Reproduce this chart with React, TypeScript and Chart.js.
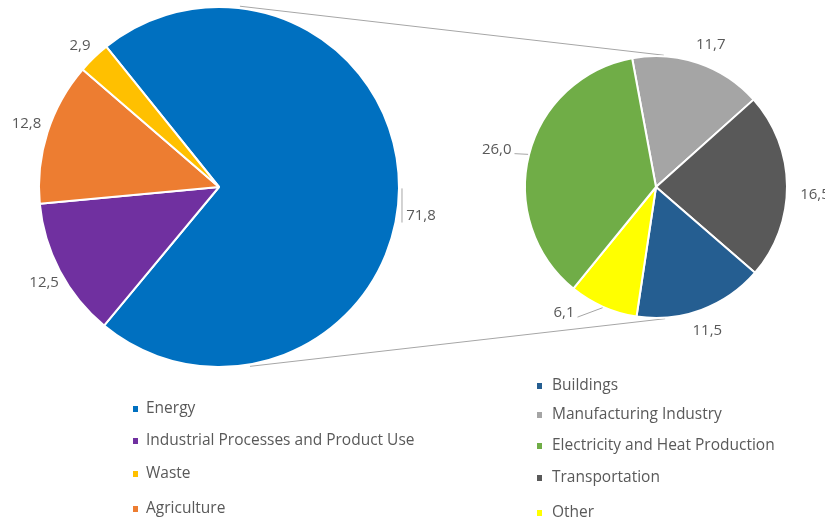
import React, { useEffect, useRef } from "react";
import { Chart, registerables } from "chart.js";

Chart.register(...registerables);

// ---- data (drawing order, clockwise) ----
const mainLabels = ["Energy", "Industrial Processes and Product Use", "Agriculture", "Waste"];
const mainValues = [71.8, 12.5, 12.8, 2.9];
const mainColors = ["#0070C0", "#7030A0", "#ED7D31", "#FFC000"];
const mainLegendOrder = ["Energy", "Industrial Processes and Product Use", "Waste", "Agriculture"];

const energyLabels = ["Manufacturing Industry", "Transportation", "Buildings", "Other", "Electricity and Heat Production"];
const energyValues = [11.7, 16.5, 11.5, 6.1, 26.0];
const energyColors = ["#A5A5A5", "#595959", "#255E91", "#FFFF00", "#70AD47"];
const energyLegendOrder = ["Buildings", "Manufacturing Industry", "Electricity and Heat Production", "Transportation", "Other"];

// ---- layout / style ----
const W = 825;
const H = 524;
const LABEL_FONT = "15px 'Open Sans', 'Noto Sans', sans-serif";
const LEGEND_FONT = "15.5px 'Open Sans', 'Noto Sans', sans-serif";
const TEXT = "#595959";

const mainLabelNudge = [[2, 27], [2, 2], [-2, -2], [0, 3]];
const mainLeader = ["down", "none", "none", "none"];
const energyLabelNudge = [[6, 1], [8, 9], [-1, 2], [-31, -12], [-13, 0]];
const energyLeader = ["none", "none", "none", "side", "side"];

const mainLegendPos = { markX: 133, textX: 146, rows: [409, 441, 474, 509] };
const energyLegendPos = { markX: 537, textX: 552, rows: [386, 415, 446, 478, 513] };

const fmt = (v: number) => v.toFixed(1).replace(".", ",");

function labelPlugin(id: string, nudges: number[][], leaders: string[]) {
  return {
    id,
    afterDatasetsDraw(chart: any) {
      const ctx = chart.ctx;
      const meta = chart.getDatasetMeta(0);
      const values = chart.data.datasets[0].data as number[];
      ctx.save();
      ctx.font = LABEL_FONT;
      ctx.fillStyle = TEXT;
      ctx.textBaseline = "middle";
      ctx.textAlign = "center";
      meta.data.forEach((arc: any, i: number) => {
        const p = arc.getProps(["x", "y", "startAngle", "endAngle", "outerRadius"], true);
        const mid = (p.startAngle + p.endAngle) / 2;
        const cos = Math.cos(mid);
        const sin = Math.sin(mid);
        const lx = p.x + (p.outerRadius + 20) * cos + nudges[i][0];
        const ly = p.y + (p.outerRadius + 20) * sin + nudges[i][1];
        const text = fmt(values[i]);
        const tw = ctx.measureText(text).width;
        ctx.fillText(text, lx, ly);
        if (leaders[i] !== "none") {
          ctx.strokeStyle = "#A6A6A6";
          ctx.lineWidth = 1;
          ctx.beginPath();
          if (leaders[i] === "down") {
            const ex = p.x + (p.outerRadius + 3) * cos;
            const ey = p.y + (p.outerRadius + 3) * sin;
            ctx.moveTo(ex, ey);
            ctx.lineTo(ex, ly + 7);
          } else {
            const ex = p.x + (p.outerRadius + 1) * cos;
            const ey = p.y + (p.outerRadius + 1) * sin;
            ctx.moveTo(ex, ey);
            ctx.lineTo(lx + tw / 2 + 3, ly + 4);
          }
          ctx.stroke();
        }
      });
      ctx.restore();
    },
  };
}

function legendPlugin(id: string, order: string[], labels: string[], colors: string[], pos: any) {
  return {
    id,
    afterDraw(chart: any) {
      const ctx = chart.ctx;
      ctx.save();
      ctx.font = LEGEND_FONT;
      ctx.textBaseline = "middle";
      ctx.textAlign = "left";
      order.forEach((name, k) => {
        const idx = labels.indexOf(name);
        const y = pos.rows[k];
        ctx.fillStyle = colors[idx];
        ctx.fillRect(pos.markX, y - 3, 5, 6);
        ctx.fillStyle = TEXT;
        ctx.fillText(name, pos.textX, y);
      });
      ctx.restore();
    },
  };
}

export default function App() {
  const leftRef = useRef<HTMLCanvasElement>(null);
  const rightRef = useRef<HTMLCanvasElement>(null);

  useEffect(() => {
    if (!leftRef.current || !rightRef.current) return;

    const left = new Chart(leftRef.current, {
      type: "pie",
      data: {
        labels: mainLabels,
        datasets: [
          {
            data: mainValues,
            backgroundColor: mainColors,
            borderColor: "#FFFFFF",
            borderWidth: 2,
          },
        ],
      },
      options: {
        responsive: false,
        animation: false,
        rotation: -38.8,
        layout: { padding: { left: 38, top: 6, right: 425, bottom: 156 } },
        plugins: { legend: { display: false }, tooltip: { enabled: false } },
      },
      plugins: [
        labelPlugin("mainLabels", mainLabelNudge, mainLeader),
        legendPlugin("mainLegend", mainLegendOrder, mainLabels, mainColors, mainLegendPos),
      ],
    });

    const connectorPlugin = {
      id: "connectors",
      beforeDatasetsDraw(chart: any) {
        const a = left.getDatasetMeta(0).data[0] as any;
        const b = chart.getDatasetMeta(0).data[0] as any;
        if (!a || !b) return;
        const ap = a.getProps(["x", "y", "outerRadius"], true);
        const bp = b.getProps(["x", "y", "outerRadius"], true);
        const deg = Math.PI / 180;
        const pt = (c: any, r: number, ang: number) => [c.x + r * Math.cos(ang * deg), c.y + r * Math.sin(ang * deg)];
        const ctx = chart.ctx;
        ctx.save();
        ctx.strokeStyle = "#A6A6A6";
        ctx.lineWidth = 1;
        const t1 = pt(ap, ap.outerRadius + 2, -83.4);
        const t2 = pt(bp, bp.outerRadius + 1, -86.6);
        const b1 = pt(ap, ap.outerRadius + 2, 80.2);
        const b2 = pt(bp, bp.outerRadius + 1, 86.0);
        ctx.beginPath();
        ctx.moveTo(t1[0], t1[1]);
        ctx.lineTo(t2[0], t2[1]);
        ctx.moveTo(b1[0], b1[1]);
        ctx.lineTo(b2[0], b2[1]);
        ctx.stroke();
        ctx.restore();
      },
    };

    const right = new Chart(rightRef.current, {
      type: "pie",
      data: {
        labels: energyLabels,
        datasets: [
          {
            data: energyValues,
            backgroundColor: energyColors,
            borderColor: "#FFFFFF",
            borderWidth: 2,
          },
        ],
      },
      options: {
        responsive: false,
        animation: false,
        rotation: -10.5,
        layout: { padding: { left: 524, top: 55, right: 37, bottom: 205 } },
        plugins: { legend: { display: false }, tooltip: { enabled: false } },
      },
      plugins: [
        connectorPlugin,
        labelPlugin("energyLabels", energyLabelNudge, energyLeader),
        legendPlugin("energyLegend", energyLegendOrder, energyLabels, energyColors, energyLegendPos),
      ],
    });

    return () => {
      right.destroy();
      left.destroy();
    };
  }, []);

  return (
    <div style={{ position: "absolute", left: 0, top: 0, width: W, height: H, background: "#FFFFFF", overflow: "hidden" }}>
      <canvas ref={leftRef} width={W} height={H} style={{ position: "absolute", left: 0, top: 0, width: W, height: H }} />
      <canvas ref={rightRef} width={W} height={H} style={{ position: "absolute", left: 0, top: 0, width: W, height: H }} />
    </div>
  );
}
